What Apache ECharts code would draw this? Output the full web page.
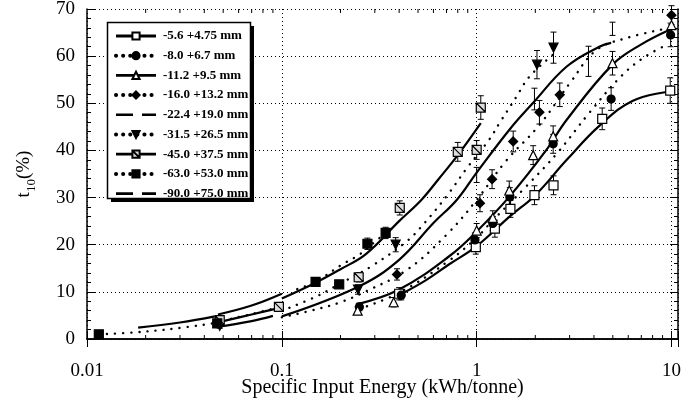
<!DOCTYPE html>
<html><head><meta charset="utf-8">
<script src="https://cdn.jsdelivr.net/npm/echarts@6/dist/echarts.min.js"></script>
<style>html,body{margin:0;padding:0;background:#fff}#c{width:689px;height:406px}</style>
</head><body><div id="c"></div>
<script>
// ---- categories / labels ----
const sizeFractions = ['-5.6 +4.75 mm','-8.0 +6.7 mm','-11.2 +9.5 mm','-16.0 +13.2 mm','-22.4 +19.0 mm','-31.5 +26.5 mm','-45.0 +37.5 mm','-63.0 +53.0 mm','-90.0 +75.0 mm'];
const xDecadeLabels = {'-2':'0.01','-1':'0.1','0':'1','1':'10'};
const xMinorTicks = [0.02,0.03,0.04,0.05,0.06,0.07,0.08,0.09,0.2,0.3,0.4,0.5,0.6,0.7,0.8,0.9,2,3,4,5,6,7,8,9];

// ---- measured points: [energy kWh/t, t10 %, error half-width] ----
const pts_5_6  = [[0.40,9.6,1.3],[0.99,19.5,1.5],[1.24,23.4,1.8],[1.49,27.6,1.8],[1.98,30.5,2.0],[2.48,32.6,2.0],[4.41,46.7,2.3],[9.85,52.7,2.7]];
const pts_8_0  = [[0.25,6.8,0.8],[0.41,9.3,1.0],[0.98,21.0,1.5],[1.21,24.5,1.5],[1.48,30.1,2.0],[2.47,41.4,2.0],[4.9,50.9,2.4],[9.9,64.5,2.5]];
const pts_11_2 = [[0.245,6.0,0.8],[0.375,7.8,1.0],[1.0,23.0,1.5],[1.21,25.7,1.5],[1.47,31.5,2.0],[1.95,39.0,2.0],[2.47,43.0,2.2],[4.98,58.5,2.5],[10,66.6,2.5]];
const pts_16_0 = [[0.39,13.7,1.2],[1.04,28.8,1.8],[1.2,33.9,2.0],[1.54,41.9,2.2],[2.1,48.1,2.5],[2.67,51.8,2.5],[10,68.7,2.0]];
const pts_22_4 = [[1.0,34.8,1.6],[1.98,50.9,2.3],[3.75,58.9,3.2],[4.98,65.8,1.4]];
const pts_31_5 = [[0.048,2.8,0.5],[0.246,10.5,1.0],[0.384,20.0,1.5],[2.04,58.2,3.0],[2.48,61.8,3.3]];
const pts_45_0 = [[0.048,4.0,0.6],[0.0966,6.8,0.8],[0.248,13.1,1.0],[0.403,27.8,1.5],[0.80,39.7,2.0],[1.0,40.1,2.0],[1.05,49.1,2.5]];
const pts_63_0 = [[0.0115,1.0,0],[0.0466,3.3,0.5],[0.149,12.1,0.7],[0.197,11.6,0.7],[0.275,20.2,1.2],[0.341,22.5,1.2]];
const pts_90_0 = [];

// ---- fitted curves: [energy, t10]; null = break ----
const fit_5_6  = [[0.40,9.3],[0.55,12.5],[0.72,15.8],[1.0,19.7],[1.48,26.0],[2.0,30.5],[2.9,38.0],[4.26,45.2],[6.3,50.5],[9.8,52.5]];
const fit_8_0  = [[0.25,6.4],[0.4,9.8],[0.72,16.6],[1.0,21.5],[1.2,25.0],[1.8,32.4],[2.6,39.5],[3.79,48.0],[5.6,56.0],[7.4,60.0],[9.6,62.5]];
const fit_11_2 = [[0.24,7.3],[0.4,10.5],[0.72,17.5],[1.0,22.8],[1.48,30.3],[2.27,40.0],[2.9,46.5],[4.98,58.2],[7.0,62.5],[9.8,65.6]];
const fit_16_0 = [[0.1,4.6],[0.15,6.3],[0.2,7.8],[0.27,10.1],[0.44,14.7],[0.70,22.1],[1.0,29.5],[1.41,37.7],[2.1,45.4],[3.05,54.6],[4.12,61.3],[5.83,63.8],[9.8,66.0]];
const fit_22_4 = [[0.047,2.6],[0.07,3.8],[0.09,4.9],null,[0.1,4.8],[0.25,11.2],[0.4,16.8],[0.6,24.6],[0.79,29.5],[1.0,35.3],[1.48,44.5],[1.94,50.0],[2.9,57.8],[4.26,62.0],[4.9,62.8]];
const fit_31_5 = [[0.1,6.0],[0.15,9.0],[0.2,11.8],[0.29,15.5],[0.44,20.8],[0.54,24.6],[0.71,30.6],[0.9,36.5],[1.16,42.3],[1.31,45.8],[1.6,51.4],[1.87,55.7],[2.5,60.5]];
const fit_45_0 = [[0.05,3.8],[0.07,5.2],[0.1,6.7],null,[0.1,8.6],[0.15,12.0],[0.2,14.8],[0.27,18.0],[0.4,25.0],[0.52,29.5],[0.64,34.0],[0.8,39.0],[1.05,45.8]];
const fit_63_0 = [[0.0115,1.0],[0.0176,1.4],[0.028,2.2],[0.044,3.3],null,[0.05,3.9],[0.07,5.3],[0.1,6.9],null,[0.12,10.6],[0.15,12.2],[0.2,15.6],[0.25,17.9],[0.3,20.6],[0.35,22.8]];
const fit_90_0 = [[0.0183,2.4],[0.03,3.5],[0.0453,4.8],null,[0.047,5.2],[0.07,7.1],[0.1,9.6]];

const FONT = 'Liberation Serif';
const slashSq = 'path://M0,0H10V10H0ZM0,0L10,10';
const styles = [
  {pts:pts_5_6,  fit:fit_5_6,  sym:'rect',     fill:'#fff', line:'solid'},
  {pts:pts_8_0,  fit:fit_8_0,  sym:'circle',   fill:'#000', line:'dot'},
  {pts:pts_11_2, fit:fit_11_2, sym:'triangle', fill:'#fff', line:'solid'},
  {pts:pts_16_0, fit:fit_16_0, sym:'diamond',  fill:'#000', line:'dot'},
  {pts:pts_22_4, fit:fit_22_4, sym:'none',     fill:'#000', line:'dash'},
  {pts:pts_31_5, fit:fit_31_5, sym:'triangle', fill:'#000', line:'dot', rot:180},
  {pts:pts_45_0, fit:fit_45_0, sym:slashSq,    fill:'#ddd', line:'solid'},
  {pts:pts_63_0, fit:fit_63_0, sym:'rect',     fill:'#000', line:'dot'},
  {pts:pts_90_0, fit:fit_90_0, sym:'none',     fill:'#000', line:'dash'}
];

function brk(arr){ return arr.map(p => p === null ? ['-','-'] : p); }
function lineStyleFor(kind){
  if (kind === 'dot') return {color:'#000', width:2.4, type:[0.1,8], cap:'round'};
  return {color:'#000', width:2.2, type:'solid'};
}
function renderErr(params, api){
  const x = api.value(0), lo = api.value(1), hi = api.value(2);
  if (hi - lo <= 0) return null;
  const p1 = api.coord([x, lo]), p2 = api.coord([x, hi]);
  const w = 3, st = {stroke:'#000', lineWidth:1};
  return {type:'group', children:[
    {type:'line', shape:{x1:p1[0],y1:p1[1],x2:p2[0],y2:p2[1]}, style:st},
    {type:'line', shape:{x1:p1[0]-w,y1:p1[1],x2:p1[0]+w,y2:p1[1]}, style:st},
    {type:'line', shape:{x1:p2[0]-w,y1:p2[1],x2:p2[0]+w,y2:p2[1]}, style:st}
  ]};
}
function renderMinor(params, api){
  const v = api.value(0);
  const b = api.coord([v, 0]), t = api.coord([v, 70]);
  const st = {stroke:'#000', lineWidth:1};
  return {type:'group', children:[
    {type:'line', shape:{x1:b[0],y1:b[1],x2:b[0],y2:b[1]-4}, style:st},
    {type:'line', shape:{x1:t[0],y1:t[1],x2:t[0],y2:t[1]+4}, style:st}
  ]};
}

const series = [];
styles.forEach((s, i) => {
  series.push({
    name: sizeFractions[i], type:'line', data: brk(s.fit), smooth:0.4,
    showSymbol:false, symbol: s.sym, symbolRotate: s.rot || 0,
    itemStyle:{color:s.fill, borderColor:'#000', borderWidth:1.2},
    lineStyle: lineStyleFor(s.line), connectNulls:false, z:2, silent:true
  });
});
styles.forEach((s, i) => {
  if (!s.pts.length) return;
  series.push({
    name: sizeFractions[i] + ' err', type:'custom', renderItem: renderErr,
    data: s.pts.map(p => [p[0], p[1]-p[2], p[1]+p[2]]),
    encode:{x:0, y:[1,2]}, z:3, silent:true
  });
  if (s.sym !== 'none') {
    series.push({
      name: sizeFractions[i] + ' pts', type:'scatter', data: s.pts.map(p => [p[0], p[1]]),
      symbol: s.sym, symbolRotate: s.rot || 0,
      symbolSize: s.sym === 'circle' ? 8 : 9,
      itemStyle:{color:s.fill, borderColor:'#000', borderWidth:1.2, opacity:1}, z:4, silent:true
    });
  }
});
series.push({type:'custom', name:'minor', renderItem: renderMinor, data: xMinorTicks.map(v=>[v]),
  encode:{x:0}, z:5, silent:true, clip:false});

const legendData = sizeFractions.map((n, i) => {
  const s = styles[i];
  const item = {name:n};
  if (s.line === 'dash') {
    item.itemStyle = {color:'rgba(0,0,0,0)', borderColor:'rgba(0,0,0,0)', borderWidth:0};
    item.lineStyle = {type:[17,9], width:2.6, color:'#000'};
  } else if (s.line === 'dot') {
    item.lineStyle = {type:[0.1,7], width:4, cap:'round', color:'#000'};
  } else {
    item.lineStyle = {type:'solid', width:2.8, color:'#000'};
  }
  return item;
});

const chart = echarts.init(document.getElementById('c'), null, {renderer:'canvas'});
chart.setOption({
  animation:false,
  backgroundColor:'#fff',
  grid:{left:87, right:11, top:9, bottom:67, containLabel:false, outerBoundsMode:'none'},
  graphic:{elements:[
    {type:'rect', z:100, shape:{x:111, y:26, width:143, height:176}, style:{fill:'#000'}},
    {type:'rect', z:101, shape:{x:107.5, y:22.5, width:143, height:176}, style:{fill:'#fff', stroke:'#000', lineWidth:1.5}}
  ]},
  legend:{
    z:120, orient:'vertical', left:114, top:29.5, itemWidth:40, itemHeight:9, itemGap:6.7,
    padding:0, backgroundColor:'transparent', borderWidth:0,
    textStyle:{fontFamily:FONT, fontWeight:'bold', fontSize:13, color:'#000', padding:[0,0,0,2]},
    selectedMode:false, data: legendData
  },
  xAxis:[{
    type:'log', logBase:10, min:0.01, max:10.8, position:'bottom',
    name:'Specific Input Energy (kWh/tonne)', nameLocation:'middle', nameGap:39, nameMoveOverlap:false,
    nameTextStyle:{fontFamily:FONT, fontSize:20, color:'#000'},
    axisLine:{show:true, lineStyle:{color:'#000', width:1.5}},
    axisTick:{show:true, inside:true, length:8, lineStyle:{color:'#000', width:1}},
    minorTick:{show:false},
    axisLabel:{fontFamily:FONT, fontSize:19, color:'#000', margin:23,
      formatter: v => { const l = Math.log10(v); const r = Math.round(l); return Math.abs(l-r) < 1e-6 ? (xDecadeLabels[String(r)] || '') : ''; }},
    splitLine:{show:true, lineStyle:{color:'#000', type:[1,3], width:1}}
  },{
    type:'log', logBase:10, min:0.01, max:10.8, position:'top',
    axisLine:{show:true, lineStyle:{color:'#000', width:1.5}},
    axisTick:{show:true, inside:true, length:8, lineStyle:{color:'#000', width:1}},
    axisLabel:{show:false}, splitLine:{show:false}
  }],
  yAxis:[{
    type:'value', min:0, max:70, interval:10, position:'left',
    name:'{a|t}{b|10}{a|(%)}', nameLocation:'middle', nameGap:53, nameMoveOverlap:false,
    nameTextStyle:{rich:{
      a:{fontFamily:FONT, fontSize:19, color:'#000', lineHeight:24, verticalAlign:'bottom'},
      b:{fontFamily:FONT, fontSize:13, color:'#000', lineHeight:24, verticalAlign:'bottom', padding:[0,0,-4,0]}
    }},
    axisLine:{show:true, lineStyle:{color:'#000', width:1.5}},
    axisTick:{show:true, inside:true, length:8, lineStyle:{color:'#000', width:1}},
    minorTick:{show:true, splitNumber:5, length:4, lineStyle:{color:'#000', width:1}},
    axisLabel:{fontFamily:FONT, fontSize:19, color:'#000', margin:12},
    splitLine:{show:true, lineStyle:{color:'#000', type:[1,3], width:1}}
  },{
    type:'value', min:0, max:70, interval:10, position:'right',
    axisLine:{show:true, lineStyle:{color:'#000', width:1.5}},
    axisTick:{show:true, inside:true, length:8, lineStyle:{color:'#000', width:1}},
    minorTick:{show:true, splitNumber:5, length:4, lineStyle:{color:'#000', width:1}},
    axisLabel:{show:false}, splitLine:{show:false}
  }],
  series: series
});
</script></body></html>
